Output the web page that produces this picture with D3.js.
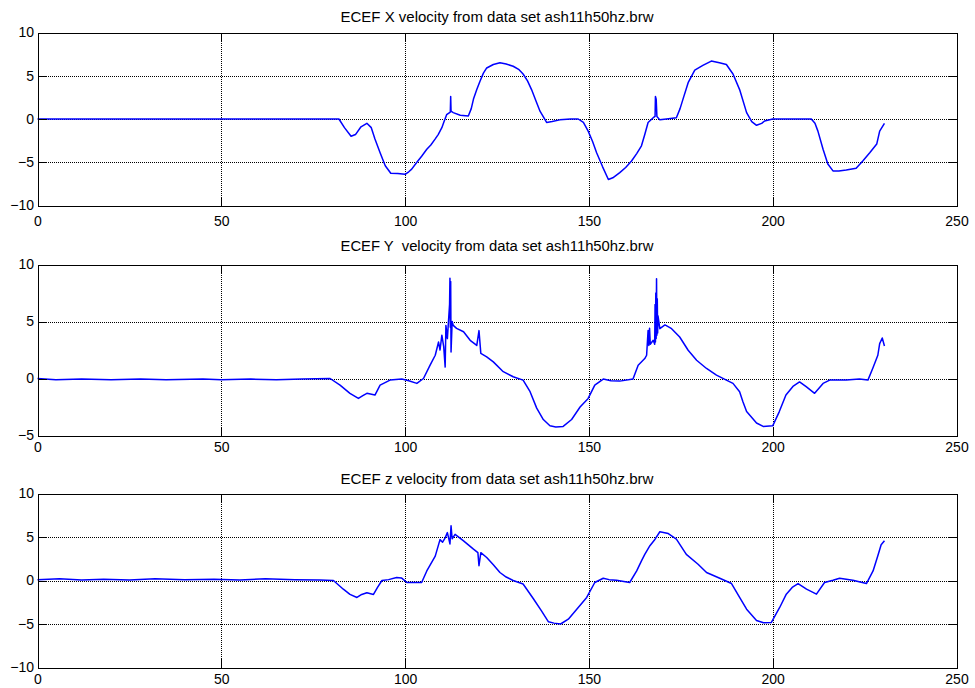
<!DOCTYPE html>
<html>
<head>
<meta charset="utf-8">
<script src="https://cdn.jsdelivr.net/npm/d3@7"></script>
<style>
  html, body { margin: 0; padding: 0; background: #fff; }
  svg { display: block; font-family: Arial, "Liberation Sans", sans-serif; }
</style>
</head>
<body>
<svg id="chart" width="975" height="688"></svg>
<script>
// ---------- data ----------
const titles = [
  "ECEF X velocity from data set ash11h50hz.brw",
  "ECEF Y  velocity from data set ash11h50hz.brw",
  "ECEF z velocity from data set ash11h50hz.brw"
];
const xTicks = [0, 50, 100, 150, 200, 250];
const yTicksX = [-10, -5, 0, 5, 10];
const yTicksY = [-5, 0, 5, 10];
const yTicksZ = [-10, -5, 0, 5, 10];

const tX = [0, 82, 83.5, 85.3, 86.5, 88, 89.6, 90.8, 91.8, 93.2, 94.6, 96.1, 98, 100, 101, 101.8, 103.2, 104.5, 105.9, 107, 108.2, 109, 110, 110.6, 111.3, 112.3, 112.4, 112.5, 113.1, 115, 117.2, 118, 118.6, 119.5, 120.4, 121.3, 122.2, 124, 125.8, 127.5, 129.4, 131, 132.1, 133.3, 134.4, 135.5, 136.7, 138.5, 140, 142.1, 145, 147.1, 148.5, 149.8, 151, 152.1, 153.7, 155.3, 156.5, 158.4, 160, 161.6, 163, 164.3, 165.2, 166.1, 167.5, 168, 168.1, 168.3, 168.5, 169.3, 171.1, 173.8, 174.8, 175.6, 177, 178.8, 181, 183.3, 185.5, 187.4, 189.2, 191, 192.9, 194.3, 195.6, 197, 197.8, 200, 210.5, 211.5, 212.3, 213.7, 215, 216.4, 218, 220, 222.7, 224.5, 226.4, 228.3, 229.1, 230.4];
const vX = [0, 0, -1.0, -2.0, -1.8, -0.9, -0.5, -1.0, -2.3, -3.9, -5.4, -6.27, -6.3, -6.4, -6.1, -5.8, -5.0, -4.3, -3.5, -3.0, -2.3, -1.8, -1.0, -0.3, 0.5, 0.8, 2.6, 0.9, 0.74, 0.43, 0.35, 1.2, 2.3, 3.4, 4.4, 5.3, 5.9, 6.3, 6.5, 6.35, 6.1, 5.7, 5.2, 4.4, 3.4, 2.2, 0.9, -0.4, -0.3, -0.1, 0, 0, -0.4, -1.4, -2.6, -3.9, -5.5, -7.0, -6.8, -6.2, -5.6, -4.85, -4.0, -3.1, -1.8, -0.4, 0.15, 0.3, 2.6, 2.3, 0.3, -0.1, 0, 0.15, 1.2, 2.3, 4.2, 5.66, 6.2, 6.7, 6.5, 6.3, 5.2, 3.4, 0.74, -0.3, -0.73, -0.5, -0.23, 0, 0, -0.5, -1.4, -3.5, -5.2, -6.0, -6.0, -5.9, -5.7, -4.85, -3.9, -2.9, -1.4, -0.5];

const tY = [0, 5, 12, 20, 28, 35, 45, 50, 58, 65, 72, 79.6, 82.3, 85, 87.3, 88.5, 89.6, 91.8, 93.2, 95.9, 99.1, 101, 103.2, 105, 106.8, 108.2, 109.1, 109.5, 110, 110.5, 110.9, 111.1, 111.5, 111.8, 112.1, 112.2, 112.3, 112.4, 112.5, 112.8, 113.1, 114, 115.9, 117.7, 119.5, 120.1, 120.6, 122.2, 124, 126.7, 129.4, 132.1, 134, 135.8, 137.6, 139.4, 141, 143, 145.3, 147.6, 149.8, 151.6, 153.9, 156, 158.4, 162, 163.4, 165.2, 165.7, 166.1, 166.3, 166.5, 166.7, 167.5, 167.9, 168.0, 168.1, 168.2, 168.3, 168.4, 168.5, 168.6, 168.7, 168.8, 169.3, 170.7, 172.5, 174.7, 177, 179.3, 182, 184.7, 187.4, 189.2, 191, 191.9, 192.9, 195.6, 197.4, 200, 201.8, 203.6, 205.5, 207.3, 209.1, 211.4, 213.7, 215.5, 220, 223.6, 225.9, 227.2, 228.6, 229.1, 229.8, 230.4];
const vY = [0, -0.1, -0.05, -0.12, -0.05, -0.1, -0.05, -0.1, -0.05, -0.12, -0.05, 0, -0.58, -1.3, -1.75, -1.5, -1.3, -1.45, -0.58, -0.14, -0.05, -0.2, -0.43, 0, 1.17, 2.04, 3.2, 2.5, 3.8, 2.8, 1.0, 4.66, 3.5, 5.0, 6.5, 8.8, 4.5, 8.5, 2.33, 5.0, 4.66, 4.4, 4.1, 3.35, 2.9, 4.2, 2.2, 1.9, 1.46, 0.6, 0.15, -0.14, -1.16, -2.6, -3.6, -4.15, -4.25, -4.2, -3.6, -2.5, -1.75, -0.58, -0.05, -0.2, -0.23, -0.05, 1.17, 1.75, 2.04, 4.2, 2.9, 4.4, 3.0, 3.35, 3.0, 6.5, 3.2, 7.5, 3.5, 8.74, 3.8, 7.0, 4.0, 5.5, 4.37, 4.7, 4.37, 3.64, 2.48, 1.6, 0.88, 0.3, -0.14, -0.43, -1.16, -2.04, -2.9, -3.9, -4.2, -4.15, -2.9, -1.45, -0.7, -0.3, -0.72, -1.3, -0.43, -0.14, -0.14, -0.05, -0.14, 0.88, 2.04, 3.06, 3.55, 2.85];

const tZ = [0, 6, 12, 18, 25, 32, 40, 48, 55, 62, 70, 76.9, 80.5, 83.2, 85, 86.9, 88.2, 89.6, 91.4, 92.5, 93.7, 95.5, 97.7, 99, 100.5, 104.5, 105.9, 108.2, 109.5, 110.2, 110.9, 111.5, 112, 112.2, 112.5, 112.8, 113.6, 115.9, 118.6, 119.8, 120.1, 120.6, 122.2, 124, 125.8, 127.5, 129.4, 132.1, 134.9, 137.1, 139, 140.5, 142.3, 144.4, 146.7, 149.4, 151.6, 153.9, 155.5, 157.5, 161.1, 163, 164.3, 165.2, 166.6, 168, 169.3, 171.6, 173.8, 176.5, 179.7, 182, 185.6, 188.8, 191, 192.9, 195.6, 197.5, 199.6, 201.9, 203.7, 205.3, 206.9, 209.2, 211.9, 214.1, 216.4, 218.2, 221.8, 225.5, 227.3, 228.6, 229.5, 230.4];
const vZ = [0.1, 0.2, 0.05, 0.15, 0.05, 0.2, 0.1, 0.15, 0.05, 0.2, 0.1, 0.05, 0, -1.0, -1.6, -1.95, -1.6, -1.4, -1.6, -0.8, 0, 0.1, 0.35, 0.3, -0.23, -0.23, 1.1, 2.8, 4.7, 4.4, 4.9, 5.5, 4.6, 4.2, 6.3, 4.8, 5.3, 4.56, 3.6, 3.2, 1.7, 3.2, 2.64, 1.8, 0.92, 0.4, 0, -0.4, -2.1, -3.5, -4.75, -4.9, -5.0, -4.45, -3.3, -1.95, -0.23, 0.26, 0.1, 0.03, -0.23, 1.1, 2.26, 3.0, 4.0, 4.75, 5.6, 5.4, 4.75, 3.0, 1.87, 0.92, 0.26, -0.35, -1.95, -3.3, -4.6, -4.85, -4.83, -3.1, -1.57, -0.8, -0.35, -1.0, -1.57, -0.23, 0.03, 0.26, 0.03, -0.35, 1.1, 2.84, 4.1, 4.56];

// ---------- layout ----------
const L = 37.5, R = 956.5, TICK = 9, FONT = "Arial, 'Liberation Sans', sans-serif";
const panels = [
  { title: titles[0], t: tX, v: vX, yTicks: yTicksX, dom: [-10, 10], top: 32.5,  bottom: 205.5, titleY: 22,  labY: 11 },
  { title: titles[1], t: tY, v: vY, yTicks: yTicksY, dom: [-5, 10],  top: 264.5, bottom: 435.5, titleY: 251, labY: 7 },
  { title: titles[2], t: tZ, v: vZ, yTicks: yTicksZ, dom: [-10, 10], top: 493.5, bottom: 667.5, titleY: 484, labY: 7 }
];

const svg = d3.select("#chart");
svg.append("rect").attr("width", 975).attr("height", 688).attr("fill", "#fff");

const x = d3.scaleLinear().domain([0, 250]).range([L, R]);

panels.forEach(p => {
  const y = d3.scaleLinear().domain(p.dom).range([p.bottom, p.top]);
  const g = svg.append("g");

  // grid (dotted)
  g.selectAll(".gx").data(xTicks.slice(1, -1)).join("line")
    .attr("x1", d => Math.round(x(d)) + 0.5).attr("x2", d => Math.round(x(d)) + 0.5)
    .attr("y1", p.top).attr("y2", p.bottom)
    .attr("stroke", "#000").attr("stroke-width", 1).attr("stroke-dasharray", "1,1")
    .attr("shape-rendering", "crispEdges");
  g.selectAll(".gy").data(p.yTicks.slice(1, -1)).join("line")
    .attr("x1", L).attr("x2", R)
    .attr("y1", d => Math.round(y(d)) + 0.5).attr("y2", d => Math.round(y(d)) + 0.5)
    .attr("stroke", "#000").attr("stroke-width", 1).attr("stroke-dasharray", "1,1")
    .attr("shape-rendering", "crispEdges");

  // data line
  const pts = p.t.map((t, i) => [t, p.v[i]]);
  g.append("path").datum(pts)
    .attr("fill", "none").attr("stroke", "#0000ff").attr("stroke-width", 1.5)
    .attr("stroke-linejoin", "round")
    .attr("d", d3.line().x(d => x(d[0])).y(d => y(d[1])));

  // axes with inward ticks
  const axB = d3.axisBottom(x).tickValues(xTicks).tickSize(-TICK).tickFormat(d3.format("d"));
  const axT = d3.axisTop(x).tickValues(xTicks).tickSize(-TICK).tickFormat("");
  const axLft = d3.axisLeft(y).tickValues(p.yTicks).tickSize(-TICK).tickFormat(d3.format("d"));
  const axRgt = d3.axisRight(y).tickValues(p.yTicks).tickSize(-TICK).tickFormat("");

  const gb = g.append("g").attr("transform", `translate(0,${p.bottom})`).call(axB);
  const gt = g.append("g").attr("transform", `translate(0,${p.top})`).call(axT);
  const gl = g.append("g").attr("transform", `translate(${L},0)`).call(axLft);
  const gr = g.append("g").attr("transform", `translate(${R},0)`).call(axRgt);
  [gb, gt, gl, gr].forEach(a => {
    a.attr("shape-rendering", "crispEdges");
    a.select(".domain").attr("stroke", "#000").attr("stroke-width", 1);
    a.selectAll(".tick line").attr("stroke", "#000").attr("stroke-width", 1);
    a.selectAll("text").attr("fill", "#000").style("font-size", "14px").style("font-family", FONT);
  });
  gl.selectAll("text").attr("x", -3.5);
  gb.selectAll("text").attr("y", p.labY);

  // title
  svg.append("text")
    .attr("x", (L + R) / 2).attr("y", p.titleY)
    .attr("text-anchor", "middle")
    .style("font-size", "14px")
    .style("font-family", FONT)
    .attr("fill", "#000")
    .attr("xml:space", "preserve")
    .style("white-space", "pre")
    .attr("textLength", 313)
    .attr("lengthAdjust", "spacingAndGlyphs")
    .text(p.title);
});
</script>
</body>
</html>
